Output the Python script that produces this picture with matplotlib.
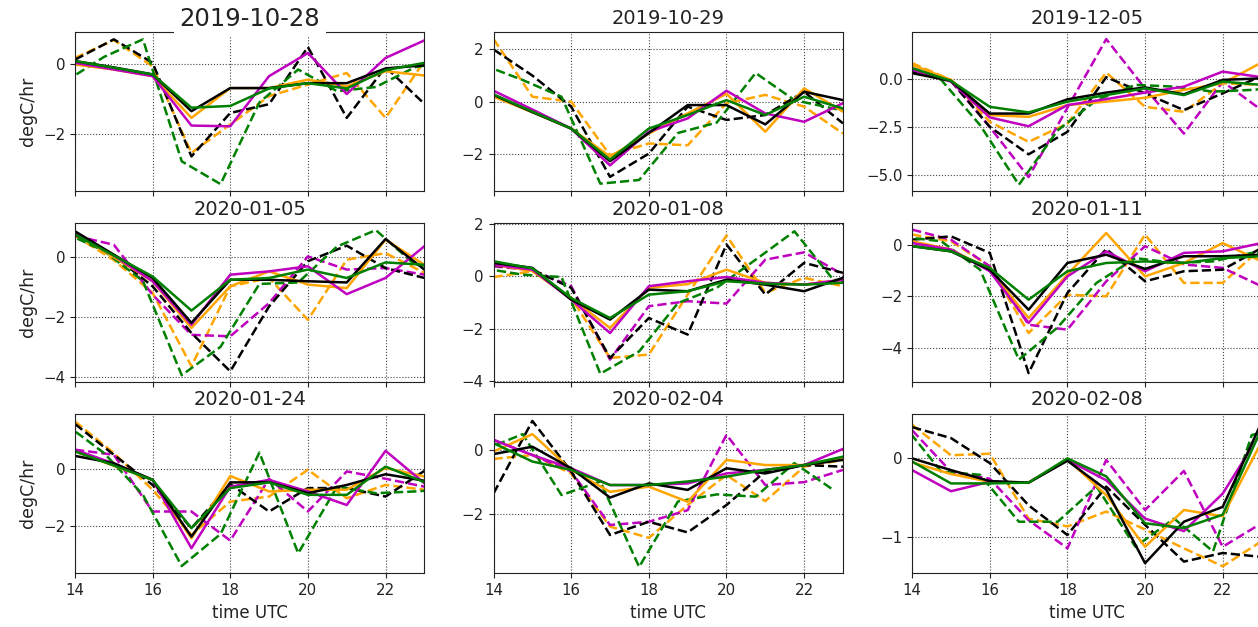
import numpy as np
import matplotlib
matplotlib.use("Agg")
import matplotlib.pyplot as plt
from matplotlib.ticker import MaxNLocator

nan = np.nan

dates = ["2019-10-28", "2019-10-29", "2019-12-05",
         "2020-01-05", "2020-01-08", "2020-01-11",
         "2020-01-24", "2020-02-04", "2020-02-08"]

hours = [14, 15, 16, 17, 18, 19, 20, 21, 22, 23]
# the green dashed series is reported at xx:45
hours_q = [13.75, 14.75, 15.75, 16.75, 17.75, 18.75, 19.75, 20.75, 21.75, 22.75, 23.75]

orange_solid = [
    [-0.02, -0.16, -0.35, -1.54, -0.69, -0.69, -0.45, -0.64, -0.21, -0.33],
    [0.19, -0.4, -1.03, -2.1, -1.22, -0.45, 0.3, -1.15, 0.51, -0.38],
    [0.73, -0.05, -1.88, -1.97, -1.36, -1.18, -0.98, -0.57, -0.23, 0.85],
    [0.8, 0.0, -0.81, -2.37, -0.98, -0.48, -0.92, -1.04, 0.58, -0.26],
    [0.44, 0.2, -0.83, -1.97, -0.44, -0.3, 0.25, -0.25, -0.32, -0.13],
    [0.13, -0.19, -0.97, -2.84, -1.16, 0.45, -1.23, -0.71, 0.06, -0.65],
    [0.63, 0.12, -0.38, -2.45, -0.24, -0.79, -0.73, -0.73, 0.04, -0.26],
    [-0.05, 0.49, -0.62, -1.3, -1.14, -1.61, -0.31, -0.47, -0.47, -0.26],
    [-0.05, -0.2, -0.3, -0.31, -0.01, -0.47, -1.13, -0.66, -0.74, 0.21],
]
magenta_solid = [
    [0.03, -0.16, -0.35, -1.76, -1.78, -0.35, 0.31, -0.86, 0.17, 0.67],
    [0.42, -0.3, -1.03, -2.44, -1.15, -0.64, 0.42, -0.45, -0.77, -0.06],
    [0.47, -0.14, -2.0, -2.46, -1.36, -1.05, -0.71, -0.4, 0.38, 0.09],
    [0.8, 0.05, -0.81, -2.26, -0.59, -0.48, -0.31, -1.24, -0.7, 0.36],
    [0.44, 0.25, -0.89, -2.16, -0.38, -0.19, -0.03, -0.25, -0.32, -0.13],
    [0.06, -0.19, -1.03, -3.03, -1.23, -0.26, -1.03, -0.32, -0.26, 0.06],
    [0.69, 0.2, -0.38, -2.8, -0.62, -0.38, -0.79, -1.27, 0.65, -0.5],
    [0.31, -0.16, -0.57, -1.09, -1.09, -1.04, -0.73, -0.62, -0.47, 0.03],
    [-0.15, -0.42, -0.3, -0.31, -0.02, -0.28, -0.77, -0.93, -0.45, 0.34],
]
black_solid = [
    [0.08, -0.1, -0.3, -1.35, -0.69, -0.69, -0.55, -0.55, -0.13, -0.04],
    [0.26, -0.4, -1.03, -2.28, -1.2, -0.13, -0.13, -0.87, 0.38, 0.06],
    [0.3, -0.1, -1.8, -1.8, -1.06, -0.71, -0.44, -0.8, -0.05, 0.03],
    [0.86, 0.08, -0.7, -2.2, -0.76, -0.76, -0.81, -0.85, 0.6, -0.42],
    [0.51, 0.32, -0.89, -1.65, -0.51, -0.57, -0.13, -0.32, -0.57, -0.06],
    [-0.06, -0.26, -0.97, -2.52, -0.71, -0.39, -0.94, -0.45, -0.45, -0.39],
    [0.47, 0.21, -0.38, -2.39, -0.47, -0.46, -0.85, -0.56, -0.18, -0.41],
    [-0.13, 0.1, -0.57, -1.48, -1.04, -1.24, -0.57, -0.73, -0.47, -0.31],
    [0.0, -0.15, -0.29, -0.31, -0.03, -0.4, -1.34, -0.81, -0.62, 0.46],
]
green_solid = [
    [0.08, -0.11, -0.3, -1.25, -1.2, -0.7, -0.55, -0.7, -0.18, 0.03],
    [0.28, -0.38, -1.03, -2.22, -1.03, -0.51, 0.06, -0.51, 0.19, -0.26],
    [0.56, -0.1, -1.45, -1.74, -1.18, -0.84, -0.49, -0.84, -0.14, -0.31],
    [0.75, 0.05, -0.65, -1.79, -0.76, -0.7, -0.42, -0.7, -0.18, -0.26],
    [0.57, 0.3, -0.83, -1.59, -0.7, -0.57, -0.19, -0.28, -0.32, -0.25],
    [-0.06, -0.26, -0.9, -2.13, -1.03, -0.71, -0.65, -0.71, -0.52, -0.45],
    [0.63, 0.13, -0.38, -2.09, -0.67, -0.47, -0.91, -0.91, 0.09, -0.46],
    [0.21, -0.36, -0.62, -1.09, -1.09, -0.98, -0.83, -0.62, -0.47, -0.21],
    [-0.04, -0.32, -0.32, -0.31, 0.0, -0.23, -0.83, -0.89, -0.72, 0.38],
]
orange_dashed = [
    [0.17, 0.68, -0.07, -2.54, -1.73, -0.92, -0.59, -0.26, -1.54, 0.08],
    [2.4, 0.19, 0.0, -2.05, -1.6, -1.67, -0.06, 0.26, -0.19, -1.22],
    [0.82, -0.05, -2.23, -3.27, -2.32, 0.33, -1.45, -1.71, -0.23, -0.31],
    [0.71, -0.1, -1.2, -3.65, -0.98, -0.7, -2.1, -0.09, 0.13, -0.53],
    [-0.03, 0.19, -0.83, -3.11, -2.98, -0.7, 1.55, -0.63, -0.06, -0.38],
    [0.39, 0.13, -0.84, -3.42, -1.94, -2.0, 0.39, -1.48, -1.48, -0.13],
    [1.69, 0.57, -0.73, -2.33, -1.15, -0.97, -0.02, -1.03, -0.56, -0.73],
    [-0.28, -0.16, -0.73, -2.38, -2.73, -1.71, -0.78, -1.59, -0.52, -0.31],
    [0.43, 0.04, 0.06, -0.77, -0.87, -0.68, -0.91, -1.15, -1.38, -1.06],
]
magenta_dashed = [
    [nan] * 10,
    [nan] * 10,
    [0.56, -0.1, -2.5, -5.1, -1.5, 2.07, -0.49, -2.84, -0.14, -1.62],
    [0.71, 0.41, -1.26, -2.6, -2.65, -1.54, 0.02, -0.42, -0.37, -0.59],
    [0.38, 0.23, -0.38, -3.17, -1.14, -0.95, -1.04, 0.63, 0.91, 0.06],
    [0.58, 0.19, -0.84, -3.1, -3.29, -1.42, -0.06, -0.77, -0.9, -1.61],
    [0.69, 0.51, -1.5, -1.5, -2.53, -0.34, -1.5, -0.08, -0.34, -0.62],
    [0.31, -0.16, -0.67, -2.33, -2.23, -1.87, 0.47, -1.09, -1.0, -0.62],
    [0.36, -0.17, -0.26, -0.79, -1.15, -0.02, -0.66, -0.16, -1.13, -0.83],
]
black_dashed = [
    [0.12, 0.7, 0.03, -2.64, -1.4, -1.15, 0.48, -1.54, -0.09, -1.14],
    [2.0, 1.0, -0.19, -2.88, -1.99, -0.19, -0.7, -0.51, 0.38, -0.83],
    [0.38, -0.1, -2.49, -3.92, -2.75, 0.09, -0.75, -1.62, -0.75, 0.16],
    [0.8, 0.05, -0.98, -2.54, -3.82, -1.65, -0.14, 0.38, -0.37, -0.7],
    [0.41, 0.25, -0.44, -3.11, -1.59, -2.22, 1.21, -0.7, 0.51, 0.13],
    [0.19, 0.32, -0.32, -4.97, -1.87, -0.17, -1.42, -1.03, -0.97, -0.13],
    [1.6, 0.51, -0.56, -2.09, -0.53, -1.5, -0.67, -0.67, -0.97, -0.06],
    [-1.35, 0.9, -0.67, -2.64, -2.23, -2.56, -1.71, -0.67, -0.47, -0.52],
    [0.4, 0.26, -0.06, -0.6, -0.98, -0.36, -0.85, -1.32, -1.21, -1.26],
]
green_dashed = [
    [-0.5, 0.2, 0.7, -2.78, -3.43, -1.1, -0.16, -0.78, -0.66, -0.1, 0.1],
    [1.4, 0.83, 0.19, -3.14, -3.0, -1.2, -0.8, 1.1, 0.06, -0.26, -0.6],
    [0.7, -0.05, -2.4, -5.5, -2.67, -1.1, -0.31, -0.4, -0.66, -0.57, -0.4],
    [0.8, 0.2, -0.8, -3.95, -3.0, -0.9, -0.85, 0.35, 0.9, -0.25, -0.4],
    [0.3, 0.06, -0.03, -3.71, -2.86, -1.02, -0.44, 0.63, 1.71, -0.13, -0.3],
    [0.3, 0.13, -0.97, -4.45, -3.2, -1.48, -0.52, -0.71, -0.65, -0.32, -0.2],
    [1.6, 0.57, -0.91, -3.43, -2.3, 0.59, -2.98, -0.62, -0.85, -0.79, -0.7],
    [0.0, 0.49, -1.4, -0.98, -3.63, -1.6, -1.38, -1.45, -0.41, -1.24, nan],
    [0.45, -0.17, -0.21, -0.81, -0.81, -0.36, -1.13, -0.77, -1.19, 0.3, 0.4],
]

ylims = [(-3.64, 0.91), (-3.44, 2.67), (-5.85, 2.44),
         (-4.19, 1.14), (-4.04, 2.03), (-5.33, 0.84),
         (-3.69, 1.96), (-3.83, 1.12), (-1.47, 0.57)]

fig, axes = plt.subplots(3, 3, sharex=True, figsize=(12.58, 6.27), dpi=100)
fig.subplots_adjust(left=0.0596, right=1.0028, bottom=0.0856, top=0.949,
                    wspace=0.198, hspace=0.197)

lw = 1.8
for i, ax in enumerate(axes.flat):
    ax.plot(hours, orange_dashed[i], color="orange", ls="--", lw=lw)
    ax.plot(hours, magenta_dashed[i], color="m", ls="--", lw=lw)
    ax.plot(hours, black_dashed[i], color="k", ls="--", lw=lw)
    ax.plot(hours_q, green_dashed[i], color="g", ls="--", lw=lw)
    ax.plot(hours, orange_solid[i], color="orange", lw=lw)
    ax.plot(hours, magenta_solid[i], color="m", lw=lw)
    ax.plot(hours, black_solid[i], color="k", lw=lw)
    ax.plot(hours, green_solid[i], color="g", lw=lw)

    ax.set_xlim(14, 23)
    ax.set_ylim(*ylims[i])
    ax.set_xticks([14, 16, 18, 20, 22])
    ax.yaxis.set_major_locator(MaxNLocator(nbins=4, steps=[1, 2, 2.5, 5, 10]))
    ax.grid(True, color="#444444", ls=":", lw=0.8)
    ax.tick_params(labelsize=10.8, colors="#222222")
    for sp in ax.spines.values():
        sp.set_color("#222222")

    if i == 0:
        ax.set_title(dates[i], fontsize=17.5, pad=4.5, color="#222222",
                     bbox=dict(facecolor="white", edgecolor="none", pad=4))
    else:
        ax.set_title(dates[i], fontsize=14, color="#222222")
    if i % 3 == 0:
        ax.set_ylabel("degC/hr", fontsize=12.5, color="#222222")
    if i >= 6:
        ax.set_xlabel("time UTC", fontsize=12, color="#222222")

fig.savefig("out.png", dpi=100)
